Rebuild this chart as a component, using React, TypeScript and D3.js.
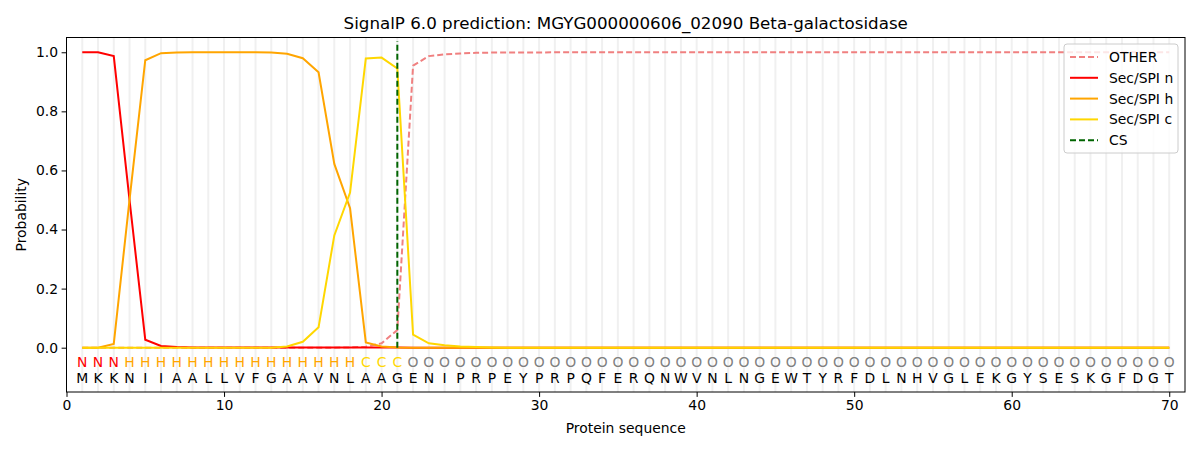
import React, { useEffect, useRef } from 'react';
import * as d3 from 'd3';

const sequence = 'MKKNIIAALLVFGAAVNLAAGENIPRPEYPRPQFERQNWVNLNGEWTYRFDLNHVGLEKGYSESKGFDGT'.split('');
const regionLabels = 'NNNHHHHHHHHHHHHHHHCCCOOOOOOOOOOOOOOOOOOOOOOOOOOOOOOOOOOOOOOOOOOOOOOOOO'.split('');

// probabilities per residue (1..70)
const otherProb = [
  0, 0, 0, 0, 0, 0, 0, 0, 0, 0, 0, 0, 0, 0, 0, 0, 0, 0.001, 0.003, 0.015, 0.06,
  0.955, 0.987, 0.993, 0.996, 0.998, 0.999, 0.999, 0.999, 0.999,
  ...Array(40).fill(1.0),
];
const nProb = [
  1.0, 1.0, 0.987, 0.5, 0.027, 0.006, 0.002, 0.001, 0.001, 0.001, 0.001, 0.001, 0.001,
  0.001, 0.001, 0.001, 0.001, 0.001, 0.001, 0.001, 0.001,
  ...Array(49).fill(0),
];
const hProb = [
  0, 0, 0.013, 0.5, 0.973, 0.997, 0.999, 1.0, 1.0, 1.0, 1.0, 1.0, 0.999, 0.995,
  0.98, 0.932, 0.622, 0.472, 0.018, 0.004, 0.001,
  ...Array(49).fill(0),
];
const cProb = [
  0, 0, 0, 0, 0, 0, 0, 0, 0, 0, 0, 0, 0, 0.004, 0.02, 0.069, 0.38, 0.525, 0.979,
  0.982, 0.945, 0.044, 0.015, 0.008, 0.004, 0.002, 0.001,
  ...Array(43).fill(0),
];
const csPosition = 21;
const xTicks = [0, 10, 20, 30, 40, 50, 60, 70];
const yTicks = [0, 0.2, 0.4, 0.6, 0.8, 1.0];

const series = [
  { name: 'OTHER', values: otherProb, color: '#f08080', dash: '6,3' },
  { name: 'Sec/SPI n', values: nProb, color: '#ff0000', dash: null },
  { name: 'Sec/SPI h', values: hProb, color: '#ffa500', dash: null },
  { name: 'Sec/SPI c', values: cProb, color: '#ffd700', dash: null },
];

const labelColor: Record<string, string> = {
  N: '#ff0000',
  H: '#ffa500',
  C: '#ffd700',
  O: '#808080',
};

function App() {
  const ref = useRef<SVGSVGElement>(null);

  useEffect(() => {
    document.body.style.margin = '0';
    const svg = d3.select(ref.current);
    svg.selectAll('*').remove();

    const W = 1200;
    const H = 450;
    const margin = { top: 37.5, right: 15, bottom: 58, left: 66.5 };
    const font = 'DejaVu Sans, sans-serif';

    const x = d3.scaleLinear().domain([0, 71]).range([margin.left, W - margin.right]);
    const y = d3.scaleLinear().domain([-0.15, 1.05]).range([H - margin.bottom, margin.top]);

    svg.append('rect').attr('width', W).attr('height', H).attr('fill', '#fff');

    // per-residue light grid
    svg
      .append('g')
      .selectAll('line')
      .data(sequence.map((_, i) => i + 1))
      .enter()
      .append('line')
      .attr('x1', (d) => x(d))
      .attr('x2', (d) => x(d))
      .attr('y1', y(-0.15))
      .attr('y2', y(1.05))
      .attr('stroke', '#f0f0f0')
      .attr('stroke-width', 2);

    const line = d3
      .line<number>()
      .x((_, i) => x(i + 1))
      .y((d) => y(d));

    series.forEach((s) => {
      svg
        .append('path')
        .datum(s.values)
        .attr('d', line)
        .attr('fill', 'none')
        .attr('stroke', s.color)
        .attr('stroke-width', 2)
        .attr('stroke-dasharray', s.dash ?? null);
    });

    // cleavage site
    svg
      .append('line')
      .attr('x1', x(csPosition))
      .attr('x2', x(csPosition))
      .attr('y1', y(0))
      .attr('y2', y(1.037))
      .attr('stroke', '#006400')
      .attr('stroke-width', 2)
      .attr('stroke-dasharray', '6,3');

    // sequence labels
    const seqG = svg.append('g').style('font-family', font).style('font-size', '13.9px');
    regionLabels.forEach((l, i) => {
      seqG
        .append('text')
        .attr('x', x(i + 1))
        .attr('y', y(-0.066))
        .attr('text-anchor', 'middle')
        .attr('fill', labelColor[l])
        .text(l);
    });
    sequence.forEach((aa, i) => {
      seqG
        .append('text')
        .attr('x', x(i + 1))
        .attr('y', y(-0.12))
        .attr('text-anchor', 'middle')
        .attr('fill', '#000')
        .text(aa);
    });

    // frame
    svg
      .append('rect')
      .attr('x', margin.left)
      .attr('y', margin.top)
      .attr('width', W - margin.right - margin.left)
      .attr('height', H - margin.bottom - margin.top)
      .attr('fill', 'none')
      .attr('stroke', '#000')
      .attr('stroke-width', 1);

    const xAxis = svg
      .append('g')
      .attr('transform', `translate(0,${H - margin.bottom})`)
      .call(d3.axisBottom(x).tickValues(xTicks).tickSize(4.9).tickPadding(3.5).tickFormat(d3.format('d')));
    const yAxis = svg
      .append('g')
      .attr('transform', `translate(${margin.left},0)`)
      .call(d3.axisLeft(y).tickValues(yTicks).tickSize(4.9).tickPadding(3.5).tickFormat(d3.format('.1f')));
    [xAxis, yAxis].forEach((a) => {
      a.select('.domain').remove();
      a.selectAll('text').style('font-family', font).style('font-size', '13.9px').attr('fill', '#000');
      a.selectAll('line').attr('stroke', '#000');
    });

    svg
      .append('text')
      .attr('x', (margin.left + W - margin.right) / 2)
      .attr('y', 433)
      .attr('text-anchor', 'middle')
      .style('font-family', font)
      .style('font-size', '13.9px')
      .text('Protein sequence');

    svg
      .append('text')
      .attr('transform', `translate(26,${(margin.top + H - margin.bottom) / 2}) rotate(-90)`)
      .attr('text-anchor', 'middle')
      .style('font-family', font)
      .style('font-size', '13.9px')
      .text('Probability');

    svg
      .append('text')
      .attr('x', (margin.left + W - margin.right) / 2)
      .attr('y', 29)
      .attr('text-anchor', 'middle')
      .style('font-family', font)
      .style('font-size', '16.7px')
      .text('SignalP 6.0 prediction: MGYG000000606_02090 Beta-galactosidase');

    // legend
    const legendItems = [
      ...series.map((s) => ({ name: s.name, color: s.color, dash: s.dash })),
      { name: 'CS', color: '#006400', dash: '6,3' },
    ];
    const lg = svg.append('g').attr('transform', 'translate(1064,44)');
    lg.append('rect')
      .attr('width', 114)
      .attr('height', 109)
      .attr('rx', 3)
      .attr('fill', 'rgba(255,255,255,0.8)')
      .attr('stroke', '#ccc');
    legendItems.forEach((it, i) => {
      const yy = 13 + i * 20.8;
      lg.append('line')
        .attr('x1', 6)
        .attr('x2', 34)
        .attr('y1', yy)
        .attr('y2', yy)
        .attr('stroke', it.color)
        .attr('stroke-width', 2)
        .attr('stroke-dasharray', it.dash ?? null);
      lg.append('text')
        .attr('x', 45)
        .attr('y', yy + 5)
        .style('font-family', font)
        .style('font-size', '13.9px')
        .text(it.name);
    });
  }, []);

  return <svg ref={ref} width={1200} height={450} style={{ display: 'block' }} />;
}

export default App;
